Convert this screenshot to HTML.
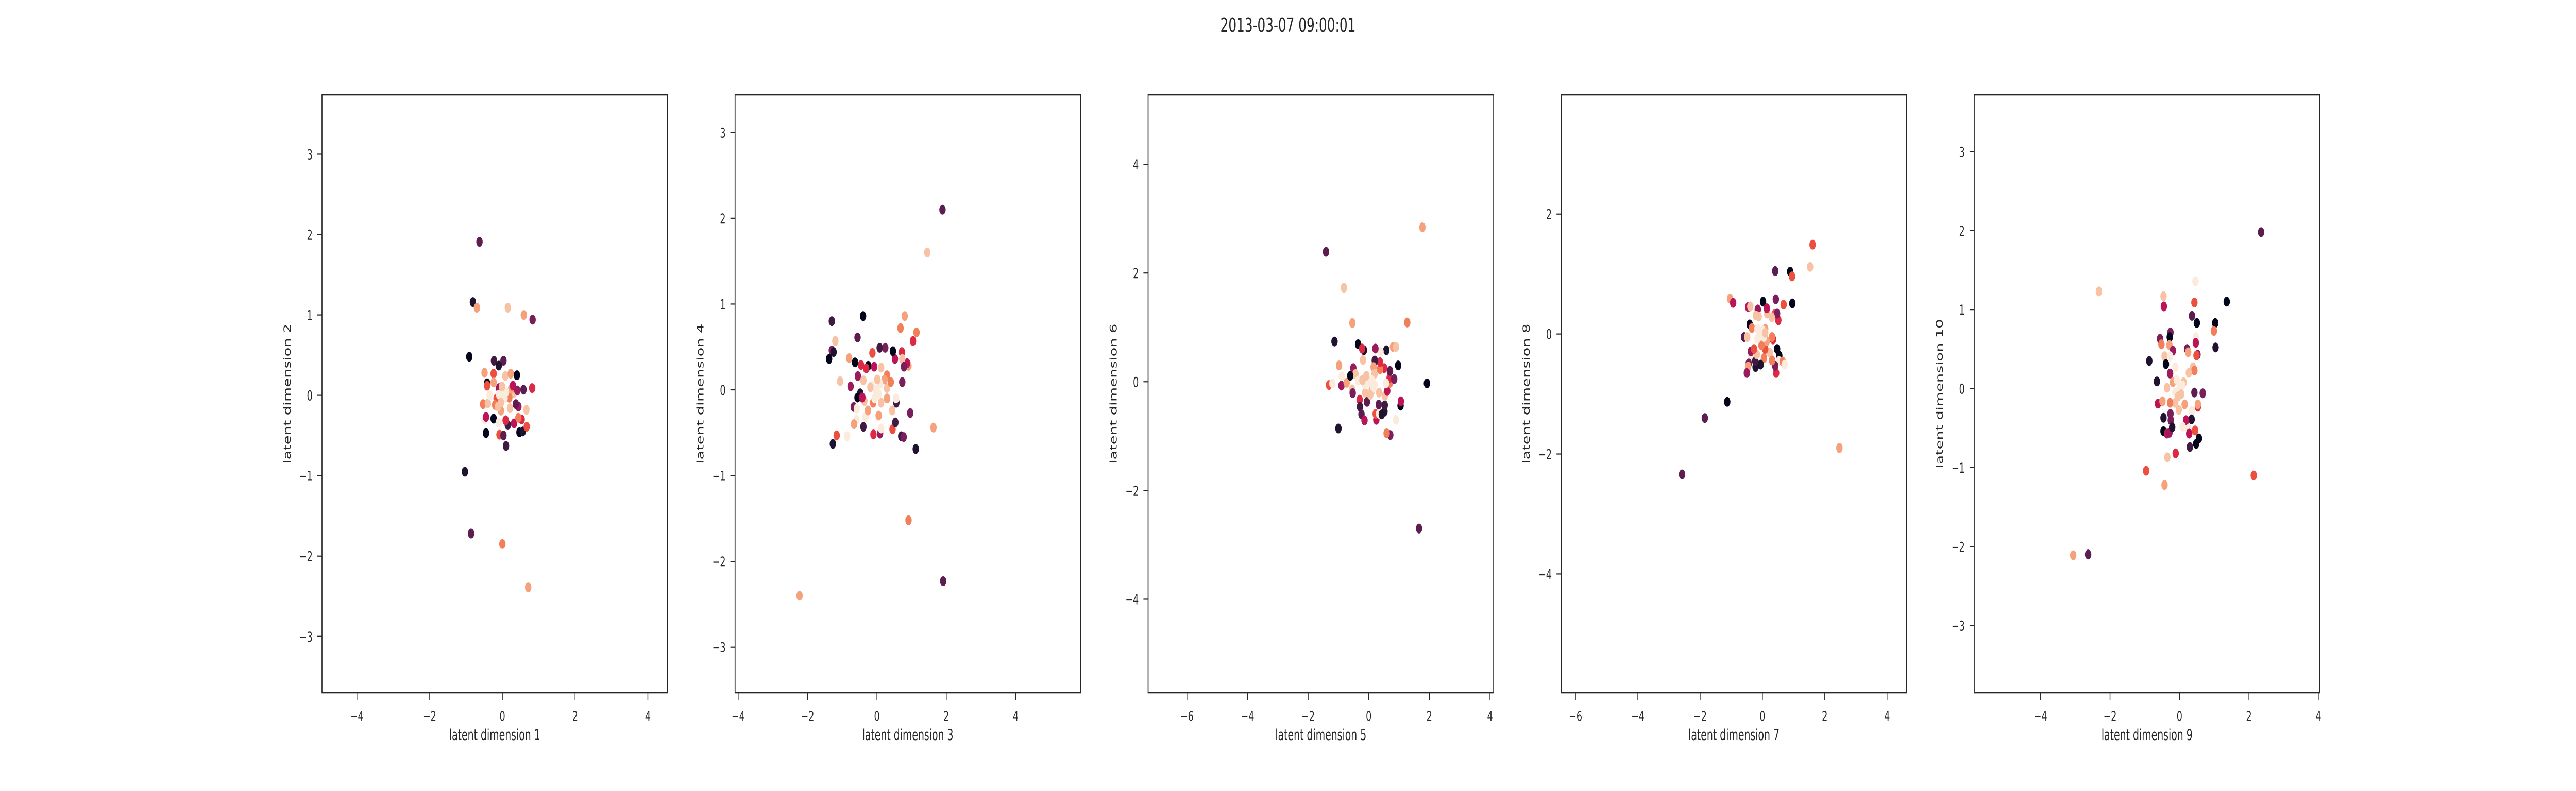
<!DOCTYPE html>
<html><head><meta charset="utf-8">
<style>
html,body{margin:0;padding:0;background:#fff;overflow:hidden;width:100%;height:100%;}
svg{display:block;width:100vw;height:100vh;font-family:"DejaVu Sans","Liberation Sans",sans-serif;}
</style></head>
<body>
<svg id="fig" viewBox="0 0 7680 1536" preserveAspectRatio="none" xmlns="http://www.w3.org/2000/svg">
<rect x="0" y="0" width="7680" height="1536" fill="#ffffff"/>
<text x="3840" y="62" text-anchor="middle" font-size="38" fill="#262626">2013-03-07 09:00:01</text>
</svg>
<script>
// palette (rocket)
const palette = ["#03051A","#1F1330","#3F1B44","#5C1E51","#7A1F5B","#9B1B5D","#BC1456","#DC2A45","#EC4F3E","#F27F5A","#F5A17C","#F7C3A4","#FAEBDD"];

// panel meta
const xLabels = ["latent dimension 1","latent dimension 3","latent dimension 5","latent dimension 7","latent dimension 9"];
const yLabels = ["latent dimension 2","latent dimension 4","latent dimension 6","latent dimension 8","latent dimension 10"];
const xDomains = [[-4.96,4.54],[-4.09,5.87],[-7.28,4.12],[-6.46,4.63],[-5.91,4.04]];
const yDomains = [[-3.70,3.74],[-3.53,3.44],[-5.72,5.28],[-5.98,3.99],[-3.85,3.72]];
const xTicks = [[-4,-2,0,2,4],[-4,-2,0,2,4],[-6,-4,-2,0,2,4],[-6,-4,-2,0,2,4],[-4,-2,0,2,4]];
const yTicks = [[-3,-2,-1,0,1,2,3],[-3,-2,-1,0,1,2,3],[-4,-2,0,2,4],[-4,-2,0,2],[-3,-2,-1,0,1,2,3]];

// panel 1 data
const p1x = [-0.63,-0.81,-0.70,0.15,0.59,0.83,-0.91,-1.03,-0.86,0,0.71,0.82,0.58,0.40,0.03,-0.23,-0.1,-0.49,-0.24,0.08,0.23,-0.42,-0.42,-0.24,-0.53,-0.40,-0.35,0.66,-0.49,-0.45,-0.24,-0.45,-0.10,-0.08,0.03,0.10,0.15,0.09,0.32,0.47,0.56,0.67,0.53,0.44,0.44,0.37,0.32,0.24,0.29,0.41,0.19,0.21,-0.04,-0.09,-0.16,-0.2,-0.04,0,-0.09,0.06,-0.04,0.10,-0.01,-0.12];
const p1y = [1.91,1.16,1.09,1.09,1.0,0.94,0.48,-0.95,-1.72,-1.85,-2.39,0.09,0.07,0.25,0.43,0.43,0.37,0.28,0.27,0.24,0.27,0.15,0.12,0.16,-0.11,-0.10,0.0,-0.18,-0.30,-0.27,-0.29,-0.47,-0.34,-0.49,-0.50,-0.63,-0.37,-0.31,-0.35,-0.46,-0.45,-0.39,-0.30,-0.28,-0.14,-0.11,0.03,0.08,0.12,0.06,-0.03,-0.16,0.06,0.09,-0.04,-0.12,-0.19,0,0.01,-0.04,-0.09,0.04,0.11,-0.14];
const p1c = [3,1,10,11,10,4,0,1,3,9,10,7,3,0,3,2,1,10,8,11,10,0,8,10,9,11,12,11,12,6,0,0,12,8,3,2,2,7,6,0,1,8,7,9,5,3,11,10,6,5,9,11,7,5,8,9,10,12,12,12,11,12,11,11];

// panel 2 data
const p2x = [1.89,1.45,1.63,0.91,1.91,-2.23,1.12,0.96,0.73,0.80,0.68,1.14,1.04,0.91,0.87,0.72,0.52,0.73,0.78,0.46,0.24,0.08,-0.13,-0.40,-0.56,-1.30,-1.20,-1.30,-1.25,-1.38,-0.80,-0.63,-0.46,-0.25,-0.31,-0.08,0.12,-1.06,-0.76,-0.55,-0.39,-0.48,-0.56,-0.67,-0.58,-0.59,-0.66,-0.39,-0.33,-0.36,-0.26,-0.10,0.09,0.12,0.05,0.45,0.70,0.77,0.53,0.56,0.55,0.44,0.29,0.29,0.40,0.29,0.22,-0.86,-1.16,-1.27,-0.42,-0.11,0.12,-0.03,-0.15,0.05,-0.07,0.09,-0.19,0.01];
const p2y = [2.10,1.60,-0.44,-1.52,-2.23,-2.40,-0.69,-0.27,0.09,0.86,0.72,0.67,0.57,0.28,0.31,0.44,0.36,0.36,0.27,0.45,0.49,0.49,0.43,0.86,0.61,0.80,0.57,0.46,0.44,0.36,0.37,0.32,0.29,0.28,0.25,0.27,0.26,0.10,0.04,0.16,0.11,-0.04,-0.09,-0.20,-0.22,-0.35,-0.40,-0.43,-0.32,-0.13,-0.24,-0.52,-0.51,-0.45,-0.30,-0.46,-0.54,-0.55,-0.38,-0.15,-0.10,-0.24,-0.10,0.02,0.09,0.17,0.12,-0.54,-0.53,-0.63,-0.09,-0.15,-0.15,0,0.05,-0.05,-0.10,0.07,0.03,0.12];
const p2c = [3,11,10,9,3,10,1,4,4,10,9,9,7,10,6,7,6,11,4,0,4,2,8,0,3,2,11,4,1,0,10,0,7,0,7,6,11,11,5,5,11,1,0,4,12,12,10,2,12,11,10,7,5,12,10,8,2,4,2,2,12,11,10,11,9,9,10,12,8,1,6,9,11,12,12,12,12,12,11,11];

// panel 3 data
const p3x = [1.77,-1.41,-0.82,-0.54,1.27,-1.13,-1.00,1.66,1.92,0.97,1.05,1.06,0.90,0.71,0.59,0.80,0.90,0.58,0.39,0.22,-0.35,-0.16,-0.22,-0.19,-0.98,-0.89,-1.31,-1.20,-0.90,-0.73,-0.55,-0.53,-0.30,-0.29,-0.24,-0.14,-0.06,0.25,0.23,0.34,0.43,0.52,0.53,0.53,0.33,0.61,0.70,0.69,0.84,0.70,0.51,0.37,0.37,0.20,0.16,-0.51,-0.44,-0.61,-0.35,0.57,0.34,0.19,0.10,-0.12,-0.08,0.19,0,-0.12,0.10,-0.08,0.14,-0.21,0.05];
const p3y = [2.84,2.39,1.73,1.08,1.09,0.74,-0.86,-2.70,-0.03,0.30,-0.44,-0.36,-0.70,-0.98,-0.95,0.64,0.64,0.58,0.55,0.61,0.69,0.58,0.61,0.40,0.30,0.10,-0.06,-0.03,-0.07,-0.02,-0.14,-0.21,-0.33,-0.46,-0.60,-0.71,-0.37,-0.70,-0.59,-0.59,-0.60,-0.55,-0.43,-0.26,-0.42,-0.17,-0.02,0.07,0.05,0.20,0.25,0.23,0.36,0.39,0.27,0.25,0.14,0.11,0.02,-0.03,-0.20,0.14,-0.16,-0.20,0.07,-0.05,0,-0.05,0.03,0.11,-0.12,0.03,-0.24];
const p3c = [10,3,11,10,9,1,1,3,0,0,0,6,12,4,9,10,11,1,12,5,0,1,7,11,10,12,8,12,5,10,11,4,7,2,3,6,3,6,8,12,1,1,2,11,3,6,9,7,4,3,7,9,7,2,10,5,11,0,12,12,11,11,10,11,9,12,12,12,12,11,12,11,11];

// panel 4 data
const p4x = [1.61,1.53,0.89,0.95,0.41,-1.04,-0.94,0.43,0.96,0.68,0.02,-0.46,-0.39,-1.13,-1.85,-2.58,2.47,-0.41,-0.34,-0.59,-0.49,0.51,0.39,0.47,0.30,0.15,-0.15,0.14,0.34,0.31,0.47,0.54,0.24,0.53,0.65,0.71,0.44,0.41,0.31,0.05,-0.06,-0.22,-0.23,-0.44,-0.46,-0.50,-0.37,-0.18,-0.37,-0.27,0.09,0.09,-0.16,0.14,-0.03,-0.08,0.05,-0.16,0.01,0.09,-0.12,-0.21];
const p4y = [1.49,1.12,1.04,0.96,1.05,0.59,0.52,0.58,0.51,0.49,0.54,0.45,0.46,-1.13,-1.40,-2.34,-1.90,0.16,0.10,-0.05,-0.05,0.23,0.33,0.34,0.28,0.34,0.41,0.43,-0.09,-0.05,-0.25,-0.36,-0.31,-0.45,-0.46,-0.51,-0.65,-0.53,-0.44,-0.40,-0.51,-0.55,-0.45,-0.49,-0.54,-0.65,-0.34,-0.34,-0.29,-0.25,-0.25,0.09,0.09,-0.12,-0.19,-0.01,-0.05,-0.08,0.06,0.02,0.29,0.31];
const p4c = [8,11,0,8,3,10,6,4,0,8,0,6,11,0,3,3,10,0,9,3,11,7,8,4,11,11,5,6,7,9,0,0,11,12,9,12,7,4,9,9,1,1,2,4,10,5,12,11,5,8,8,10,12,10,9,12,12,12,12,11,11,11];

// panel 5 data
const p5x = [2.35,0.46,-2.32,-0.46,-0.45,0.43,1.36,0.36,0.50,1.03,0.99,1.04,-0.26,-0.28,0.47,0.47,-0.56,-0.52,-0.29,-0.19,0.22,0.25,0.52,0.49,-0.43,-0.27,-0.87,-0.39,-0.65,-0.12,0.39,0.43,0.27,-0.27,0.67,0.43,0.53,0.53,0.36,0.35,0.19,0.26,0.45,0.28,0.56,0.48,0.30,-0.11,-0.35,-0.96,-0.43,2.14,-3.06,-2.63,-0.62,-0.49,-0.46,-0.46,-0.36,-0.29,-0.25,-0.26,-0.21,0.09,-0.02,0.15,-0.12,-0.27,-0.36,-0.19,0.12,0,-0.12,0.08,-0.04,-0.08,0.05];
const p5y = [1.98,1.36,1.23,1.17,1.04,1.09,1.10,0.92,0.83,0.83,0.73,0.52,0.71,0.65,0.65,0.58,0.63,0.56,0.55,0.48,0.50,0.46,0.43,0.42,0.41,0.41,0.35,0.31,0.09,0.27,0.27,0.23,0.20,0.19,-0.06,-0.05,-0.23,-0.20,-0.28,-0.39,-0.40,-0.51,-0.53,-0.57,-0.63,-0.70,-0.74,-0.82,-0.87,-1.04,-1.22,-1.10,-2.11,-2.10,-0.19,-0.16,-0.37,-0.54,-0.57,-0.56,-0.40,-0.32,-0.49,-0.48,-0.27,-0.20,-0.18,-0.18,0.01,0.08,0.08,0,-0.05,0.04,-0.10,0.11,-0.07];
const p5c = [3,12,11,11,6,8,0,3,0,0,9,1,4,0,12,6,4,9,10,5,4,10,5,8,11,12,1,0,1,12,11,9,11,5,4,3,7,10,12,1,6,12,8,6,0,0,2,7,11,8,10,8,10,3,6,10,1,0,6,5,4,4,1,12,11,10,11,9,11,10,11,12,12,12,11,12,11];

const xsAll = [p1x,p2x,p3x,p4x,p5x];
const ysAll = [p1y,p2y,p3y,p4y,p5y];
const csAll = [p1c,p2c,p3c,p4c,p5c];

const NS = "http://www.w3.org/2000/svg";
const svg = document.getElementById("fig");
const TOP = 184, BOTTOM = 1345, LEFT0 = 960, W = 1030, STEP = 1231.5;
const ink = "#262626";

function mk(tag, attrs, parent){
  const e = document.createElementNS(NS, tag);
  for (const k in attrs) e.setAttribute(k, attrs[k]);
  (parent||svg).appendChild(e);
  return e;
}
function fmt(v){ return v < 0 ? "\u2212" + Math.abs(v) : String(v); }

for (let p = 0; p < 5; p++) {
  const L = LEFT0 + p*STEP, R = L + W;
  const xd = xDomains[p], yd = yDomains[p];
  const sx = v => L + (v - xd[0]) / (xd[1] - xd[0]) * W;
  const sy = v => BOTTOM - (v - yd[0]) / (yd[1] - yd[0]) * (BOTTOM - TOP);

  const g = mk("g", {});
  
  

  const clipId = "clip" + p;
  const cp = mk("clipPath", {id: clipId}, g);
  mk("rect", {x: L, y: TOP, width: W, height: BOTTOM-TOP}, cp);

  const pts = mk("g", {"clip-path": "url(#" + clipId + ")"}, g);
  
  
  const xs = xsAll[p], ys = ysAll[p], cs = csAll[p];
  for (let i = 0; i < xs.length; i++) {
    const c = mk("circle", {cx: sx(xs[i]).toFixed(1), cy: sy(ys[i]).toFixed(1), r: 9.5, fill: palette[cs[i]]}, pts);
    
    
  }

  const frame = mk("rect", {x: L, y: TOP, width: W, height: BOTTOM-TOP, fill: "none", stroke: ink, "stroke-width": 2.6}, g);
  
  

  xTicks[p].forEach(t => {
    const x = sx(t);
    const tk = mk("line", {x1: x, y1: BOTTOM, x2: x, y2: BOTTOM + 14, stroke: ink, "stroke-width": 2.2}, g);
    
    
    const tl = mk("text", {x: x, y: 1400, "text-anchor": "middle", "font-size": 27, fill: ink}, g);
    tl.textContent = fmt(t);
    
    
  });
  yTicks[p].forEach(t => {
    const y = sy(t);
    const tk = mk("line", {x1: L - 14, y1: y, x2: L, y2: y, stroke: ink, "stroke-width": 2.2}, g);
    
    
    const tl = mk("text", {x: L - 28, y: y + 10, "text-anchor": "end", "font-size": 27, fill: ink}, g);
    tl.textContent = fmt(t);
    
    
  });
  const xl = mk("text", {x: (L+R)/2, y: 1437, "text-anchor": "middle", "font-size": 29, fill: ink}, g);
  xl.textContent = xLabels[p];
  
  
  const cx = L - 94, cy = (TOP+BOTTOM)/2;
  const yl = mk("text", {x: cx, y: cy, "text-anchor": "middle", "font-size": 29, fill: ink, transform: "rotate(-90 " + cx + " " + cy + ")"}, g);
  yl.textContent = yLabels[p];
  
  
}
</script>
</body></html>
